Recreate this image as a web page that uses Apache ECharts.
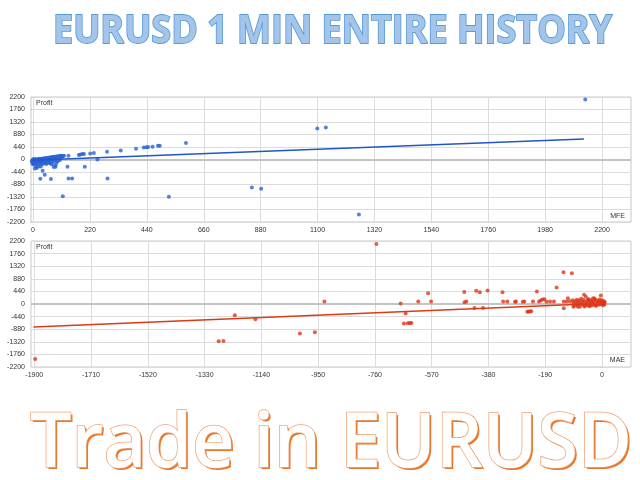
<!DOCTYPE html>
<html>
<head>
<meta charset="utf-8">
<script src="https://cdn.jsdelivr.net/npm/echarts@6/dist/echarts.min.js"></script>
<style>html,body{margin:0;padding:0;background:#fff}#main{width:640px;height:480px}</style>
</head>
<body>
<div id="main"></div>
<script>
// tick labels
var mfeTicks = [0, 220, 440, 660, 880, 1100, 1320, 1540, 1760, 1980, 2200];
var maeTicks = [-1900, -1710, -1520, -1330, -1140, -950, -760, -570, -380, -190, 0];

// MFE vs profit (top)
var mfePoints = [
    [2135, 2115], [1099, 1095], [1132, 1130], [591, 580], [525, -1310], [846, -982], [882, -1028],
    [1260, -1932], [115, -1290], [288, -665], [249, 4], [200, -258], [286, 275], [339, 321],
    [398, 380], [428, 425], [438, 430], [445, 440], [462, 450], [483, 480], [490, 482],
    [221, 210], [235, 229], [177, 158], [183, 175], [191, 190], [197, 192], [137, 128],
    [133, -258], [137, -665], [151, -665], [69, -687], [28, -676], [45, -535], [37, -400],
    [80, -264], [87, -258], [92, -90], [12, -243], [22, -243], [30, -243], [7, -313], [14, -300],
    [100, 120], [105, 125], [110, 130], [115, 125], [120, 130], [95, 110], [90, 105], [85, 100],
    [80, 95], [75, 90], [70, 80], [65, 70], [60, 65], [55, 55], [50, 50], [45, 45], [40, 35],
    [35, 30], [30, 25], [25, 20], [20, 15],
    [-5, -60], [-3, -120], [-2, -30], [0, -180], [0, 10], [2, -90], [3, -150], [4, -40], [5, 20],
    [6, -70], [8, -110], [9, -20], [10, -160], [11, 5], [12, -60], [14, -100], [15, -20],
    [17, -130], [18, 0], [19, -80], [21, -50], [23, -150], [24, -10], [26, -100], [27, 10],
    [29, -60], [31, -120], [33, -30], [34, -170], [36, 0], [38, -90], [40, -40], [42, -140],
    [44, 10], [46, -70], [48, -110], [50, -20], [52, -160], [54, 20], [56, -60], [58, -120],
    [60, -10], [63, -90], [66, 30], [68, -140], [70, -40], [73, -170], [76, 0], [78, -80],
    [82, 40], [85, -30], [88, -180], [92, 60], [96, -50], [100, 80], [104, -20], [108, 100], [112, 90]
];
var mfeTrend = [[-5, -30], [2130, 725]];

// MAE vs profit (bottom)
var maePoints = [
    [-1897, -1921], [-1283, -1302], [-1267, -1291], [-1229, -392], [-1160, -532], [-1011, -1033],
    [-961, -987], [-929, 88], [-755, 2093], [-674, 18], [-657, -330], [-663, -683], [-650, -672],
    [-643, -660], [-638, -660], [-615, 88], [-582, 378], [-572, 88], [-461, 420], [-460, 63],
    [-454, 88], [-427, -136], [-421, 466], [-409, 408], [-398, -136], [-383, 472], [-333, 413],
    [-331, 88], [-317, 88], [-291, 80], [-288, 88], [-265, 80], [-260, 88], [-250, -270],
    [-246, -262], [-241, -258], [-237, -252], [-231, 88], [-218, 440], [-211, 88], [-205, 125],
    [-199, 157], [-193, 165], [-186, 80], [-174, 88], [-161, 88], [-152, 577], [-129, 1113],
    [-101, 1072], [-128, -147], [-128, 88], [-118, 88], [-114, 200], [-107, 95], [-98, 130],
    [-96, -100], [-81, -100], [-74, -100], [-58, -88], [-40, -42], [-22, -42], [-7, 0],
    [-60, 320], [-54, 250], [-45, 157], [-25, 192], [-4, 297],
    [-95, 40], [-92, -60], [-90, 100], [-86, 10], [-84, 150], [-82, -30], [-79, 70], [-77, 120],
    [-72, 30], [-70, 180], [-67, -20], [-65, 90], [-62, 140], [-59, -60], [-57, 50], [-52, 0],
    [-50, 110], [-48, -40], [-46, 170], [-44, 60], [-42, -80], [-38, 130], [-36, 80], [-34, -50],
    [-32, 40], [-30, 200], [-28, 100], [-26, -20], [-24, 150], [-20, -60], [-18, 10], [-16, 120],
    [-14, 70], [-12, -30], [-10, 30], [-8, 160], [-6, 90], [-3, -10], [-2, 50], [0, 130], [1, 20],
    [2, 80], [3, -40], [4, 60], [5, 10], [6, 100], [7, 40], [8, -20], [9, 70]
];
var maeTrend = [[-1903, -805], [10, 22]];

var myChart = echarts.init(document.getElementById('main'));

// squeeze the big headline texts to the width they take in the picture
function fitScale(text, font, width) {
    var ctx = document.createElement('canvas').getContext('2d');
    ctx.font = font;
    return width / ctx.measureText(text).width;
}
var headFont = 'bold 39px "Open Sans"';
var headText = 'EURUSD 1 MIN ENTIRE HISTORY';
var footFont = '600 76px "Open Sans"';
var footText = 'Trade in EURUSD';
var headScale = fitScale(headText, headFont, 559);
var footScale = fitScale(footText, footFont, 602);

var gridLine = { lineStyle: { color: '#dcdcdc', width: 1 } };
var labelStyle = {
    fontSize: 7, color: '#333', fontFamily: 'Liberation Sans',
    formatter: function (v) { return String(v); }
};

function xAxisOf(grid, lo, hi, ticks) {
    return {
        type: 'value', gridIndex: grid, min: lo, max: hi,
        axisLine: { show: false },
        axisTick: { show: true, customValues: ticks, length: 3, lineStyle: { color: '#cfcfcf' } },
        axisLabel: Object.assign({ customValues: ticks, margin: 5 }, labelStyle),
        splitLine: gridLine
    };
}
function yAxisOf(grid) {
    return {
        type: 'value', gridIndex: grid, min: -2200, max: 2200, interval: 440,
        axisLine: { show: false },
        axisTick: { show: true, length: 3, lineStyle: { color: '#cfcfcf' } },
        axisLabel: Object.assign({ margin: 6 }, labelStyle),
        splitLine: gridLine
    };
}
var zeroLine = {
    silent: true, symbol: 'none', label: { show: false },
    lineStyle: { color: '#c4c4c4', width: 2, type: 'solid' },
    data: [{ yAxis: 0 }], z: 1
};

myChart.setOption({
    animation: false,
    grid: [
        { left: 31, right: 9, top: 97, height: 125, show: true, borderColor: '#c8c8c8', borderWidth: 1 },
        { left: 31, right: 9, top: 241, height: 126, show: true, borderColor: '#c8c8c8', borderWidth: 1 }
    ],
    xAxis: [xAxisOf(0, -8, 2312, mfeTicks), xAxisOf(1, -1911, 97, maeTicks)],
    yAxis: [yAxisOf(0), yAxisOf(1)],
    series: [
        {
            type: 'scatter', xAxisIndex: 0, yAxisIndex: 0, data: mfePoints, symbolSize: 4,
            itemStyle: { color: '#2a62d4' }, markLine: zeroLine
        },
        {
            type: 'line', xAxisIndex: 0, yAxisIndex: 0, data: mfeTrend, symbol: 'none',
            lineStyle: { color: '#1f56c9', width: 1.5 }
        },
        {
            type: 'scatter', xAxisIndex: 1, yAxisIndex: 1, data: maePoints, symbolSize: 4,
            itemStyle: { color: '#e0341a' }, markLine: zeroLine
        },
        {
            type: 'line', xAxisIndex: 1, yAxisIndex: 1, data: maeTrend, symbol: 'none',
            lineStyle: { color: '#dc3a14', width: 1.5 }
        }
    ],
    graphic: [
        {
            type: 'text', x: 53, y: 32, scaleX: headScale,
            style: {
                text: headText, font: headFont, fill: '#a3c5ea', stroke: '#5b9bd5', lineWidth: 1.8,
                textVerticalAlign: 'middle', verticalAlign: 'middle'
            }
        },
        {
            type: 'text', x: 32, y: 447, scaleX: footScale,
            style: {
                text: footText, font: footFont, fill: '#e8782a',
                textVerticalAlign: 'middle', verticalAlign: 'middle'
            }
        },
        {
            type: 'text', x: 30, y: 445, scaleX: footScale,
            style: {
                text: footText, font: footFont, fill: '#ffffff', stroke: '#f0a070', lineWidth: 1.5,
                textVerticalAlign: 'middle', verticalAlign: 'middle'
            }
        },
        { type: 'text', x: 36, y: 100, style: { text: 'Profit', font: '7px "Liberation Sans"', fill: '#333' } },
        { type: 'text', x: 36, y: 244, style: { text: 'Profit', font: '7px "Liberation Sans"', fill: '#333' } },
        { type: 'text', x: 625, y: 213, style: { text: 'MFE', font: '7px "Liberation Sans"', fill: '#333', align: 'right' } },
        { type: 'text', x: 625, y: 357, style: { text: 'MAE', font: '7px "Liberation Sans"', fill: '#333', align: 'right' } }
    ]
});
</script>
</body>
</html>
